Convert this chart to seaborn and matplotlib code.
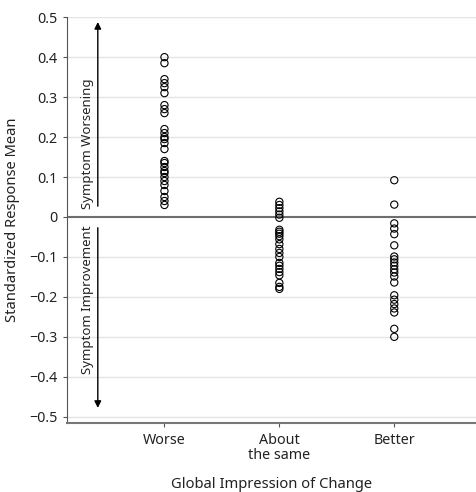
import seaborn as sns
import matplotlib.pyplot as plt
import pandas as pd

# values
worse = [0.40, 0.385, 0.345, 0.335, 0.325, 0.31, 0.28, 0.27, 0.26, 0.22, 0.21, 0.20,
         0.195, 0.185, 0.17, 0.14, 0.135, 0.125, 0.115, 0.11, 0.10, 0.09, 0.08,
         0.065, 0.05, 0.04, 0.03]
same = [0.038, 0.03, 0.022, 0.014, 0.006, -0.002, -0.032, -0.037, -0.042, -0.048,
        -0.056, -0.068, -0.08, -0.09, -0.10, -0.115, -0.122, -0.13, -0.138, -0.146,
        -0.165, -0.175, -0.18]
better = [0.092, 0.031, -0.016, -0.029, -0.043, -0.071, -0.099, -0.106, -0.114,
          -0.122, -0.131, -0.139, -0.149, -0.164, -0.196, -0.207, -0.218, -0.229,
          -0.239, -0.28, -0.30]
categories = ["Worse", "About\nthe same", "Better"]
yticks = [0.5, 0.4, 0.3, 0.2, 0.1, 0, -0.1, -0.2, -0.3, -0.4, -0.5]
ytick_labels = ["0.5", "0.4", "0.3", "0.2", "0.1", "0", "\u22120.1", "\u22120.2",
                "\u22120.3", "\u22120.4", "\u22120.5"]

df = pd.DataFrame({
    "group": [categories[0]] * len(worse) + [categories[1]] * len(same)
             + [categories[2]] * len(better),
    "srm": worse + same + better,
})

sns.set_style("white")
plt.rcParams["font.family"] = ["Noto Sans", "DejaVu Sans"]

fig = plt.figure(figsize=(4.77, 4.92), dpi=100)
ax = fig.add_axes([0.14, 0.14, 0.86, 0.825])

for t in yticks:
    if t != 0:
        ax.axhline(t, color="#e4e4e4", lw=1, zorder=0)
ax.axhline(0, color="#6e6e6e", lw=1.5, zorder=1)

sns.stripplot(data=df, x="group", y="srm", order=categories, jitter=False,
              marker="o", size=5.2, linewidth=0.8, ax=ax, zorder=3)
for c in ax.collections:
    c.set_facecolor("none")
    c.set_edgecolor("black")

ax.set_xlim(-0.85, 2.72)
ax.set_ylim(-0.516, 0.5)
ax.set_yticks(yticks)
ax.set_yticklabels(ytick_labels)

# annotation arrows
ax.annotate("", xy=(-0.58, 0.495), xytext=(-0.58, 0.02),
            arrowprops=dict(arrowstyle="-|>", color="black", lw=1, mutation_scale=10))
ax.annotate("", xy=(-0.58, -0.485), xytext=(-0.58, -0.02),
            arrowprops=dict(arrowstyle="-|>", color="black", lw=1, mutation_scale=10))
ax.text(-0.61, 0.02, "Symptom Worsening", rotation=90, ha="right", va="bottom",
        fontsize=9.5, color="#222222")
ax.text(-0.61, -0.02, "Symptom Improvement", rotation=90, ha="right", va="top",
        fontsize=9.5, color="#222222")

sns.despine(ax=ax, top=True, right=True)
ax.spines["left"].set_color("#555555")
ax.spines["bottom"].set_color("#777777")
ax.spines["bottom"].set_linewidth(1.5)
ax.tick_params(axis="both", direction="out", length=3, width=0.8, color="#555555",
               labelsize=10.3, labelcolor="#222222", left=True, bottom=True)
ax.tick_params(axis="x", pad=4)
for lab in ax.get_xticklabels():
    lab.set_linespacing(1.05)

ax.set_xlabel("Global Impression of Change", fontsize=10.6, color="#222222", labelpad=10)
ax.set_ylabel("Standardized Response Mean", fontsize=10.6, color="#222222", labelpad=7)

fig.savefig("out.png", dpi=100)
